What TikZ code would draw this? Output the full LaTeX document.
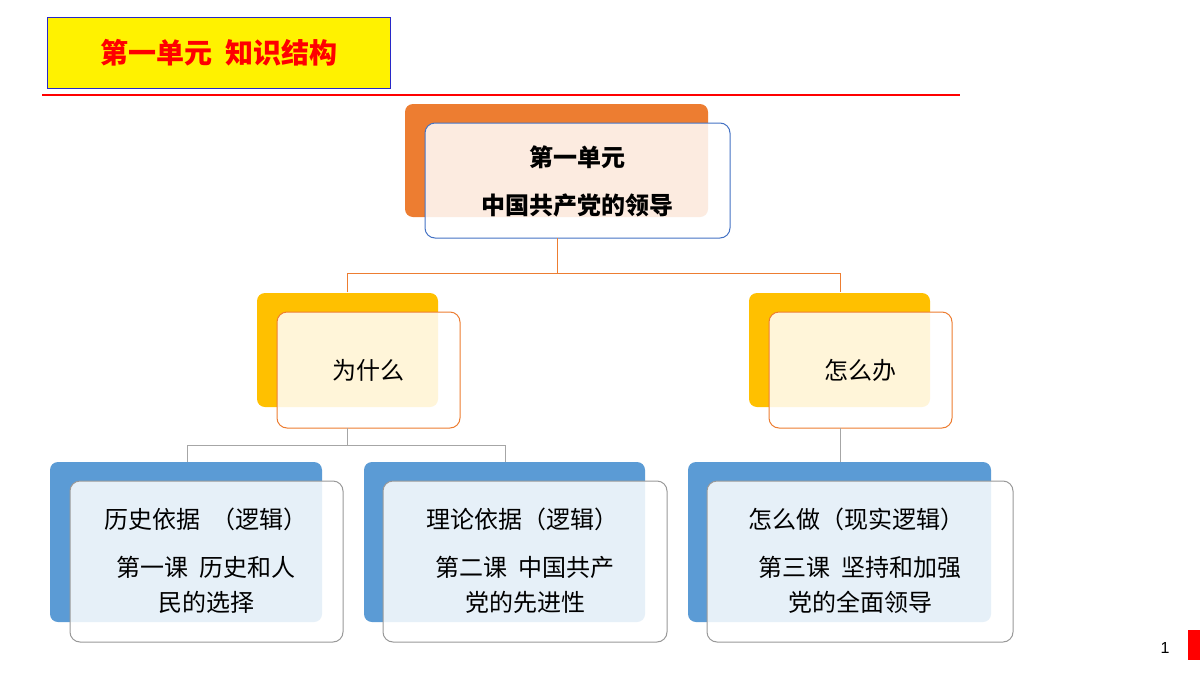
\documentclass[tikz,border=0pt]{standalone}
\usepackage{fontspec}
\setmainfont{Noto Sans CJK SC}
\setsansfont{Liberation Sans}
\begin{document}
\begin{tikzpicture}[x=1pt,y=-1pt,
 back/.style={rounded corners=8pt,draw=none},
 front/.style={rounded corners=10pt,fill=white,fill opacity=0.85,text opacity=1,line width=1pt},
 txt/.style={font=\fontsize{24}{28}\selectfont,align=center},
 con/.style={line width=1pt}]
\useasboundingbox (0,0) rectangle (1200,675);
\fill[white] (0,0) rectangle (1200,675);
% title
\node[draw={rgb,255:red,40;green,40;blue,200},fill=yellow,line width=1pt,minimum width=343pt,minimum height=71pt,anchor=north west,text=red,font=\fontsize{28}{32}\selectfont\bfseries] (title) at (47,17) {第一单元\ \ 知识结构};
\draw[red,line width=1.5pt] (42,95) coordinate (l1) -- (960,95) coordinate (l2);
% top
\fill[back,fill={rgb,255:red,237;green,125;blue,49}] (405,104) rectangle (708,217);
\draw[front,draw={rgb,255:red,68;green,114;blue,196}] (425,123) rectangle (730,238);
\node[txt,font=\fontsize{24}{28}\selectfont\bfseries] (top1) at (577,157) {第一单元};
\node[txt,font=\fontsize{24}{28}\selectfont\bfseries] (top2) at (577,205) {中国共产党的领导};
\coordinate (tb) at (557,238);
% middle
\fill[back,fill={rgb,255:red,255;green,192;blue,0}] (257,293) rectangle (438,407);
\draw[front,draw={rgb,255:red,237;green,125;blue,49}] (277,312) rectangle (460,428);
\node[txt] (why) at (368,370) {为什么};
\fill[back,fill={rgb,255:red,255;green,192;blue,0}] (749,293) rectangle (930,407);
\draw[front,draw={rgb,255:red,237;green,125;blue,49}] (769,312) rectangle (952,428);
\node[txt] (how) at (860,370) {怎么办};
\draw[con,draw={rgb,255:red,237;green,125;blue,49}] (tb) -- (557,273) coordinate (j1);
\draw[con,draw={rgb,255:red,237;green,125;blue,49}] (347,292) -- (347,273) -- (840,273) -- (840,292);
% bottom
\foreach \a/\b/\c/\d in {50/322/70/343,364/645/383/667,688/991/707/1013}{
 \fill[back,fill={rgb,255:red,91;green,155;blue,213}] (\a,462) rectangle (\b,622);
 \draw[front,draw=gray!80] (\c,481) rectangle (\d,642);
}
\node[txt] (b1a) at (206,519) {历史依据\ \ （逻辑）};
\node[txt] (b1b) at (206,567) {第一课\ \ 历史和人};
\node[txt] (b1c) at (206,602) {民的选择};
\node[txt] (b2a) at (522,519) {理论依据（逻辑）};
\node[txt] (b2b) at (525,567) {第二课\ \ 中国共产};
\node[txt] (b2c) at (525,602) {党的先进性};
\node[txt] (b3a) at (856,519) {怎么做（现实逻辑）};
\node[txt] (b3b) at (860,567) {第三课\ \ 坚持和加强};
\node[txt] (b3c) at (860,602) {党的全面领导};
\draw[con,draw=gray!70] (347,428) -- (347,445) coordinate (j2);
\draw[con,draw=gray!70] (187,462) -- (187,445) -- (505,445) -- (505,462);
\draw[con,draw=gray!70] (840,428) -- (840,462);
% page
\node[font=\sffamily\fontsize{16}{18}\selectfont] (pg) at (1165,648) {1};
\fill[red] (1188,630) rectangle (1200,660);
\end{tikzpicture}
\end{document}
